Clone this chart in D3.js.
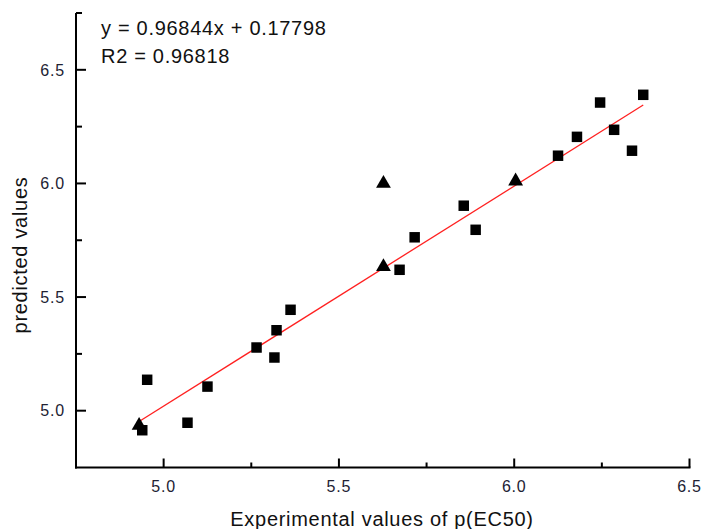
<!DOCTYPE html>
<html>
<head>
<meta charset="utf-8">
<script src="https://cdn.jsdelivr.net/npm/d3@7"></script>
<style>
  html, body { margin: 0; padding: 0; background: #fff; }
  svg { display: block; }
  text { font-family: "Liberation Sans", Arial, sans-serif; }
</style>
</head>
<body>
<svg id="chart" width="701" height="529"></svg>
<script>
// Data
const squareX = [4.939, 4.953, 5.068, 5.125, 5.265, 5.316, 5.322, 5.362, 5.673, 5.716, 5.856, 5.890, 6.125, 6.179, 6.245, 6.285, 6.336, 6.368];
const squareY = [4.914, 5.136, 4.947, 5.106, 5.278, 5.234, 5.354, 5.444, 5.620, 5.763, 5.902, 5.796, 6.122, 6.205, 6.356, 6.236, 6.144, 6.390];
const triangleX = [4.930, 5.627, 5.627, 6.004];
const triangleY = [4.935, 6.000, 5.633, 6.010];
const slope = 0.96844;
const intercept = 0.17798;
const equationLines = ["y = 0.96844x + 0.17798", "R2 = 0.96818"];
const xTicks = [5.0, 5.5, 6.0, 6.5];
const yTicks = [5.0, 5.5, 6.0, 6.5];
const xMinorTicks = [5.25, 5.75, 6.25];
const yMinorTicks = [5.25, 5.75, 6.25, 6.75];
const xTitle = "Experimental values of p(EC50)";
const yTitle = "predicted values";

const svg = d3.select("#chart");
const x = d3.scaleLinear().domain([4.75, 6.5]).range([76, 689.5]);
const y = d3.scaleLinear().domain([4.75, 6.75]).range([467.5, 13]);

const axisColor = "#000";
const labelColor = "#222233";

// X axis (ticks pointing inward/up)
const gx = svg.append("g").attr("transform", `translate(0,${y.range()[0]})`);
gx.append("line").attr("x1", x.range()[0] - 1).attr("x2", x.range()[1] + 1)
  .attr("stroke", axisColor).attr("stroke-width", 2);
gx.selectAll("line.maj").data(xTicks).join("line").attr("class", "maj")
  .attr("x1", d => x(d)).attr("x2", d => x(d)).attr("y1", 0).attr("y2", -9)
  .attr("stroke", axisColor).attr("stroke-width", 2);
gx.selectAll("line.min").data(xMinorTicks).join("line").attr("class", "min")
  .attr("x1", d => x(d)).attr("x2", d => x(d)).attr("y1", 0).attr("y2", -5)
  .attr("stroke", axisColor).attr("stroke-width", 2);
gx.selectAll("text").data(xTicks).join("text")
  .attr("x", d => x(d)).attr("y", 24)
  .attr("text-anchor", "middle").attr("font-size", 16).attr("letter-spacing", 0.8)
  .attr("fill", labelColor).text(d => d3.format(".1f")(d));

// Y axis (ticks pointing inward/right)
const gy = svg.append("g").attr("transform", `translate(${x.range()[0]},0)`);
gy.append("line").attr("y1", y.range()[1]).attr("y2", y.range()[0] + 1)
  .attr("stroke", axisColor).attr("stroke-width", 2);
gy.selectAll("line.maj").data(yTicks).join("line").attr("class", "maj")
  .attr("y1", d => y(d)).attr("y2", d => y(d)).attr("x1", 0).attr("x2", 10)
  .attr("stroke", axisColor).attr("stroke-width", 2);
gy.selectAll("line.min").data(yMinorTicks).join("line").attr("class", "min")
  .attr("y1", d => y(d)).attr("y2", d => y(d)).attr("x1", 0).attr("x2", 6)
  .attr("stroke", axisColor).attr("stroke-width", 2);
gy.selectAll("text").data(yTicks).join("text")
  .attr("x", -11).attr("y", d => y(d)).attr("dy", "0.36em")
  .attr("text-anchor", "end").attr("font-size", 16).attr("letter-spacing", 0.8)
  .attr("fill", labelColor).text(d => d3.format(".1f")(d));

// Axis titles
svg.append("text").attr("x", 382).attr("y", 526)
  .attr("text-anchor", "middle").attr("font-size", 20).attr("letter-spacing", 0.7)
  .attr("fill", "#111").text(xTitle);
svg.append("text")
  .attr("transform", `translate(27,${255}) rotate(-90)`)
  .attr("text-anchor", "middle").attr("font-size", 20).attr("letter-spacing", 0.7)
  .attr("fill", "#111").text(yTitle);

// Regression line over the data range
const allX = squareX.concat(triangleX);
const xr = d3.extent(allX);
svg.append("line")
  .attr("x1", x(xr[0])).attr("y1", y(slope * xr[0] + intercept))
  .attr("x2", x(xr[1])).attr("y2", y(slope * xr[1] + intercept))
  .attr("stroke", "#ff2020").attr("stroke-width", 1.3);

// Squares
const sq = d3.symbol().type(d3.symbolSquare).size(110);
svg.selectAll("path.sq").data(squareX.map((v, i) => [v, squareY[i]])).join("path")
  .attr("class", "sq").attr("d", sq)
  .attr("transform", d => `translate(${x(d[0])},${y(d[1])})`)
  .attr("fill", "#000");

// Triangles
const tr = d3.symbol().type(d3.symbolTriangle).size(95);
svg.selectAll("path.tr").data(triangleX.map((v, i) => [v, triangleY[i]])).join("path")
  .attr("class", "tr").attr("d", tr)
  .attr("transform", d => `translate(${x(d[0])},${y(d[1])})`)
  .attr("fill", "#000");

// Equation text
svg.selectAll("text.eq").data(equationLines).join("text")
  .attr("class", "eq").attr("x", 101).attr("y", (d, i) => 35 + i * 27.5)
  .attr("font-size", 20).attr("letter-spacing", 0.7)
  .attr("fill", "#111").text(d => d);
</script>
</body>
</html>
